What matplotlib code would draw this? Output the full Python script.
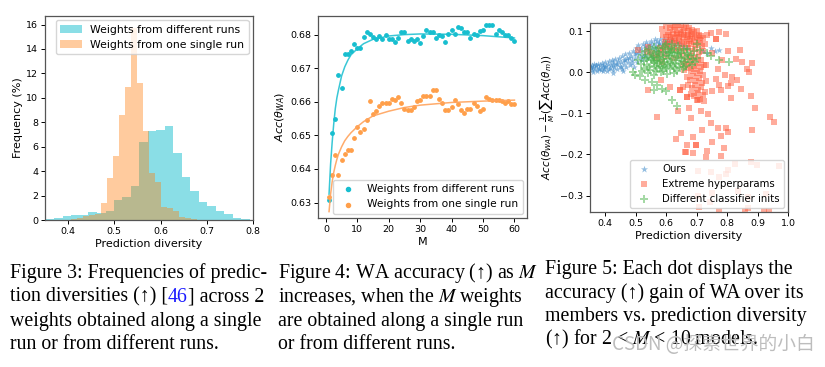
import matplotlib
matplotlib.use("Agg")
import matplotlib.pyplot as plt
import numpy as np

# ── Figure 3: histogram of prediction diversity ──────────────────────────────
diff_edges = [0.352, 0.370, 0.389, 0.407, 0.425, 0.444, 0.462, 0.481, 0.499, 0.517,
              0.536, 0.554, 0.572, 0.591, 0.609, 0.627, 0.646, 0.664, 0.683, 0.701,
              0.719, 0.738, 0.756, 0.774, 0.793]
diff_freq = [0.10, 0.15, 0.30, 0.40, 0.40, 0.65, 0.60, 0.75, 1.65, 1.90, 2.80, 6.40,
             7.30, 7.40, 7.70, 5.50, 3.55, 2.40, 1.50, 1.15, 0.70, 0.50, 0.20, 0.08]

single_edges = [0.406, 0.419, 0.432, 0.445, 0.458, 0.471, 0.484, 0.497, 0.510, 0.523,
                0.536, 0.549, 0.562, 0.575, 0.588, 0.601, 0.614, 0.627, 0.640, 0.653,
                0.666, 0.679]
single_freq = [0.10, 0.20, 0.30, 0.40, 0.50, 1.37, 3.40, 5.20, 8.60, 10.90, 15.70,
               11.20, 7.30, 3.85, 3.15, 1.05, 0.95, 0.70, 0.25, 0.15, 0.05]

# ── Figure 4: WA accuracy vs M ───────────────────────────────────────────────
M = list(range(1, 61))
acc_diff = [0.6308, 0.6506, 0.6550, 0.6679, 0.6642, 0.6741, 0.6741, 0.6750, 0.6773, 0.6760,
            0.6760, 0.6793, 0.6807, 0.6803, 0.6793, 0.6786, 0.6795, 0.6786, 0.6799, 0.6786,
            0.6786, 0.6778, 0.6791, 0.6807, 0.6807, 0.6782, 0.6786, 0.6782, 0.6786, 0.6774,
            0.6795, 0.6815, 0.6807, 0.6807, 0.6790, 0.6799, 0.6795, 0.6778, 0.6803, 0.6815,
            0.6803, 0.6824, 0.6819, 0.6807, 0.6807, 0.6790, 0.6803, 0.6799, 0.6811, 0.6815,
            0.6828, 0.6828, 0.6828, 0.6803, 0.6815, 0.6807, 0.6799, 0.6799, 0.6790, 0.6782]
acc_single = [0.6318, 0.6382, 0.6441, 0.6382, 0.6427, 0.6444, 0.6455, 0.6455, 0.6493, 0.6526,
              0.6509, 0.6518, 0.6547, 0.6601, 0.6563, 0.6572, 0.6588, 0.6596, 0.6596, 0.6596,
              0.6609, 0.6605, 0.6613, 0.6596, 0.6580, 0.6576, 0.6576, 0.6584, 0.6601, 0.6605,
              0.6617, 0.6617, 0.6617, 0.6634, 0.6634, 0.6609, 0.6596, 0.6576, 0.6576, 0.6584,
              0.6605, 0.6592, 0.6576, 0.6567, 0.6580, 0.6580, 0.6596, 0.6588, 0.6572, 0.6580,
              0.6613, 0.6609, 0.6605, 0.6605, 0.6605, 0.6601, 0.6596, 0.6601, 0.6592, 0.6592]
# fitted trend lines
fit_M = [1, 1.5, 2, 2.5, 3, 3.5, 4, 5, 6, 7, 8, 10, 12, 15, 20, 25, 30, 40, 50, 60]
fit_diff = [0.6325, 0.6415, 0.6480, 0.6535, 0.6580, 0.6612, 0.6635, 0.6677, 0.6704, 0.6724,
            0.6740, 0.6758, 0.6773, 0.6786, 0.6796, 0.6800, 0.6802, 0.6801, 0.6797, 0.6790]
fit_single = [0.6273, 0.6325, 0.6362, 0.6390, 0.6411, 0.6429, 0.6444, 0.6466, 0.6484, 0.6497,
              0.6508, 0.6526, 0.6541, 0.6558, 0.6572, 0.6583, 0.6590, 0.6598, 0.6602, 0.6605]

# ── Figure 5: accuracy gain vs diversity ─────────────────────────────────────
ours = [(0.352, 0.010), (0.355, 0.017), (0.358, 0.006), (0.361, 0.013), (0.364, 0.020),
        (0.367, 0.008), (0.370, 0.015), (0.373, 0.004), (0.376, 0.021), (0.379, 0.011),
        (0.382, 0.017), (0.385, 0.005), (0.388, 0.023), (0.391, 0.013), (0.394, 0.019),
        (0.397, 0.008), (0.400, 0.025), (0.403, 0.015), (0.406, 0.004), (0.409, 0.021),
        (0.412, 0.028), (0.415, 0.011), (0.418, 0.018), (0.421, 0.030), (0.424, 0.006),
        (0.427, 0.024), (0.430, 0.014), (0.433, 0.033), (0.436, 0.020), (0.439, 0.009),
        (0.442, 0.028), (0.445, 0.036), (0.448, 0.016), (0.451, 0.024), (0.454, 0.040),
        (0.457, 0.004), (0.460, 0.031), (0.463, 0.020), (0.466, 0.044), (0.469, 0.012),
        (0.472, 0.036), (0.475, 0.026), (0.478, 0.048), (0.481, 0.018), (0.484, 0.040),
        (0.487, 0.030), (0.490, 0.052), (0.493, 0.012), (0.496, 0.044), (0.499, 0.034),
        (0.502, 0.058), (0.505, 0.024), (0.508, 0.066), (0.511, 0.048), (0.514, 0.038),
        (0.517, 0.060), (0.520, 0.030), (0.523, 0.070), (0.526, 0.052), (0.529, 0.042),
        (0.532, 0.064), (0.535, 0.074), (0.538, 0.035), (0.541, 0.056), (0.544, 0.068),
        (0.547, 0.046), (0.550, 0.077), (0.553, 0.060), (0.556, 0.040), (0.559, 0.071),
        (0.562, 0.080), (0.565, 0.052), (0.568, 0.065), (0.571, 0.076), (0.574, 0.045),
        (0.577, 0.069), (0.580, 0.081), (0.584, 0.058), (0.588, 0.074), (0.592, 0.082),
        (0.596, 0.050), (0.600, 0.070), (0.605, 0.079), (0.610, 0.062), (0.615, 0.074),
        (0.620, 0.080), (0.628, 0.066), (0.636, 0.075), (0.645, 0.070), (0.655, 0.064),
        (0.668, 0.060), (0.720, 0.052), (0.735, 0.047), (0.748, 0.058), (0.760, 0.051),
        (0.772, 0.055), (0.360, 0.001), (0.392, 0.002), (0.425, -0.002), (0.455, 0.008),
        (0.354, 0.013), (0.368, 0.018), (0.381, 0.008), (0.398, 0.014), (0.411, 0.009),
        (0.426, 0.017), (0.440, 0.021), (0.452, 0.014), (0.465, 0.029), (0.477, 0.035),
        (0.489, 0.022), (0.500, 0.046), (0.512, 0.055), (0.524, 0.040), (0.537, 0.061),
        (0.549, 0.066), (0.563, 0.058), (0.575, 0.072), (0.590, 0.066), (0.603, 0.074)]

extreme = [(0.585, 0.105), (0.598, 0.112), (0.605, 0.098), (0.612, 0.108), (0.618, 0.115),
           (0.625, 0.102), (0.630, 0.110), (0.636, 0.095), (0.640, 0.114), (0.645, 0.104),
           (0.650, 0.116), (0.655, 0.099), (0.660, 0.109), (0.665, 0.113), (0.670, 0.101),
           (0.675, 0.108), (0.680, 0.094), (0.686, 0.104), (0.692, 0.097), (0.700, 0.101),
           (0.708, 0.092), (0.715, 0.088), (0.590, 0.090), (0.600, 0.085), (0.608, 0.092),
           (0.615, 0.087), (0.622, 0.094), (0.628, 0.083), (0.634, 0.090), (0.642, 0.086),
           (0.648, 0.093), (0.654, 0.084), (0.660, 0.091), (0.667, 0.086), (0.673, 0.092),
           (0.679, 0.082), (0.685, 0.089), (0.694, 0.083), (0.702, 0.086), (0.712, 0.079),
           (0.722, 0.083), (0.735, 0.090), (0.748, 0.095), (0.762, 0.082), (0.595, 0.075),
           (0.603, 0.070), (0.611, 0.078), (0.619, 0.072), (0.627, 0.077), (0.635, 0.071),
           (0.643, 0.076), (0.651, 0.069), (0.659, 0.075), (0.667, 0.070), (0.675, 0.077),
           (0.683, 0.068), (0.691, 0.074), (0.699, 0.066), (0.707, 0.071), (0.716, 0.063),
           (0.728, 0.068), (0.580, 0.060), (0.590, 0.055), (0.600, 0.062), (0.612, 0.057),
           (0.624, 0.060), (0.636, 0.054), (0.648, 0.059), (0.660, 0.053), (0.672, 0.058),
           (0.684, 0.051), (0.696, 0.056), (0.708, 0.049), (0.720, 0.052), (0.540, 0.062),
           (0.555, 0.048), (0.565, 0.035), (0.575, 0.045), (0.508, 0.054), (0.536, 0.050),
           (0.585, 0.025), (0.600, 0.040), (0.625, 0.035), (0.650, 0.040), (0.668, 0.038),
           (0.680, 0.040), (0.692, 0.035), (0.705, 0.038), (0.715, 0.030), (0.655, 0.020),
           (0.665, 0.025), (0.675, 0.018), (0.685, 0.024), (0.695, 0.015), (0.705, 0.022),
           (0.715, 0.012), (0.725, 0.018), (0.660, 0.005), (0.672, 0.010), (0.682, 0.002),
           (0.692, 0.008), (0.702, -0.002), (0.712, 0.004), (0.722, -0.006), (0.668, -0.012),
           (0.678, -0.018), (0.688, -0.010), (0.698, -0.022), (0.708, -0.015), (0.718, -0.026),
           (0.730, -0.020), (0.672, -0.032), (0.684, -0.038), (0.694, -0.030), (0.704, -0.044),
           (0.714, -0.036), (0.726, -0.048), (0.680, -0.052), (0.692, -0.058), (0.702, -0.050),
           (0.712, -0.064), (0.722, -0.056), (0.700, -0.068), (0.646, -0.042), (0.655, -0.036),
           (0.669, -0.060), (0.612, -0.036), (0.582, -0.018), (0.541, -0.043), (0.804, 0.052),
           (0.841, 0.054), (0.830, 0.032), (0.850, 0.025), (0.883, 0.023), (0.865, 0.009),
           (0.873, 0.001), (0.833, -0.018), (0.813, -0.025), (0.804, -0.034), (0.773, -0.030),
           (0.780, -0.044), (0.846, -0.040), (0.813, -0.062), (0.879, -0.057), (0.893, -0.088),
           (0.954, -0.120), (0.940, -0.109), (0.881, -0.141), (0.571, -0.108), (0.640, -0.095),
           (0.676, -0.087), (0.715, -0.093), (0.738, -0.101), (0.748, -0.123), (0.718, -0.141),
           (0.680, -0.111), (0.649, -0.148), (0.697, -0.177), (0.668, -0.176), (0.664, -0.195),
           (0.688, -0.197), (0.735, -0.192), (0.731, -0.207), (0.779, -0.203), (0.790, -0.184),
           (0.769, -0.136), (0.796, -0.136), (0.802, -0.146), (0.779, -0.154), (0.751, -0.170),
           (0.688, -0.158), (0.825, -0.223), (0.879, -0.219), (0.795, -0.247), (0.804, -0.237),
           (0.748, -0.243), (0.704, -0.239), (0.773, -0.255), (0.750, -0.294), (0.703, -0.300),
           (0.835, -0.288), (0.868, -0.304), (0.867, -0.331), (0.921, -0.338), (0.858, -0.338),
           (0.938, -0.337), (0.709, -0.328), (0.774, -0.337), (0.744, -0.316), (0.927, -0.296),
           (0.970, -0.229), (0.898, -0.225), (0.646, -0.042), (0.669, -0.060), (0.703, -0.068),
           (0.723, -0.071), (0.751, -0.046), (0.793, -0.007), (0.817, -0.011), (0.769, 0.007),
           (0.765, -0.017), (0.782, 0.031), (0.731, 0.017), (0.749, 0.046), (0.762, 0.082),
           (0.795, 0.094), (0.773, 0.098), (0.631, -0.163), (0.662, -0.194), (0.698, -0.177)]

inits = [(0.560, 0.062), (0.578, 0.058), (0.596, 0.064), (0.617, 0.060), (0.638, 0.063),
         (0.658, 0.057), (0.532, 0.052), (0.549, 0.047), (0.566, 0.053), (0.588, 0.049),
         (0.606, 0.054), (0.627, 0.046), (0.646, 0.052), (0.668, 0.048), (0.690, 0.051),
         (0.520, 0.042), (0.541, 0.038), (0.557, 0.043), (0.577, 0.037), (0.598, 0.041),
         (0.619, 0.036), (0.640, 0.042), (0.662, 0.037), (0.681, 0.041), (0.702, 0.036),
         (0.509, 0.031), (0.528, 0.027), (0.549, 0.033), (0.569, 0.028), (0.591, 0.032),
         (0.611, 0.026), (0.632, 0.031), (0.652, 0.027), (0.673, 0.032), (0.693, 0.026),
         (0.517, 0.021), (0.538, 0.017), (0.560, 0.022), (0.581, 0.016), (0.602, 0.021),
         (0.623, 0.015), (0.644, 0.020), (0.664, 0.016), (0.684, 0.019), (0.527, 0.009),
         (0.548, 0.005), (0.570, 0.010), (0.591, 0.004), (0.612, 0.009), (0.634, 0.003),
         (0.655, 0.008), (0.540, -0.002), (0.561, -0.006), (0.583, 0.000), (0.604, -0.004),
         (0.625, -0.001), (0.490, 0.001), (0.497, -0.007), (0.515, -0.010), (0.530, -0.019),
         (0.552, -0.024), (0.571, -0.030), (0.585, -0.040), (0.560, -0.043), (0.600, -0.045),
         (0.618, -0.068), (0.635, -0.081), (0.600, 0.068), (0.620, 0.070), (0.700, 0.070),
         (0.712, 0.054), (0.735, 0.046), (0.748, 0.040), (0.772, 0.030), (0.806, 0.025),
         (0.575, 0.044), (0.593, 0.024), (0.612, 0.040), (0.630, 0.022), (0.585, 0.012),
         (0.570, 0.036), (0.605, 0.032), (0.560, 0.028), (0.648, 0.034), (0.620, 0.050),
         (0.545, 0.056), (0.553, 0.030), (0.563, 0.015), (0.573, 0.050), (0.582, 0.027),
         (0.590, 0.058), (0.597, 0.016), (0.608, 0.046), (0.615, 0.020), (0.625, 0.056),
         (0.635, 0.038), (0.642, 0.012), (0.650, 0.046), (0.660, 0.024), (0.670, 0.042),
         (0.677, 0.026), (0.534, 0.036), (0.544, 0.012), (0.556, 0.038), (0.567, 0.002),
         (0.578, 0.022), (0.589, 0.040), (0.601, 0.010), (0.613, 0.050), (0.628, 0.010),
         (0.638, 0.048), (0.657, 0.014), (0.667, 0.056), (0.687, 0.032), (0.522, 0.004)]

fig = plt.figure(figsize=(8.25, 3.67), dpi=100)
fig.patch.set_facecolor("white")

# panel 1
ax1 = fig.add_axes([0.0545, 0.4005, 0.2521, 0.556])
ax1.stairs(diff_freq, diff_edges, fill=True, color="#17becf", alpha=0.5,
           label="Weights from different runs")
ax1.stairs(single_freq, single_edges, fill=True, color="#ff7f0e", alpha=0.4,
           label="Weights from one single run")
ax1.set_xlim(0.35, 0.8)
ax1.set_ylim(0, 16.7)
ax1.set_yticks(range(0, 17, 2))
ax1.set_xticks([0.4, 0.5, 0.6, 0.7, 0.8])
ax1.set_xlabel("Prediction diversity", fontsize=8, labelpad=2)
ax1.set_ylabel("Frequency (%)", fontsize=8, labelpad=2)
ax1.legend(loc="upper right", fontsize=7.8, handlelength=2.0, borderaxespad=0.4)

# panel 2
ax2 = fig.add_axes([0.3855, 0.406, 0.2533, 0.550])
ax2.scatter(M, acc_diff, s=6, color="#17becf", label="Weights from different runs")
ax2.scatter(M, acc_single, s=6, color="#ff9f4a", label="Weights from one single run")
ax2.plot(fit_M, fit_diff, color="#17becf", lw=1.1, alpha=0.85)
ax2.plot(fit_M, fit_single, color="#ffa35c", lw=1.1, alpha=0.9)
ax2.set_xlim(-2.5, 64)
ax2.set_ylim(0.6254, 0.6855)
ax2.set_xticks(range(0, 61, 10))
ax2.set_yticks([0.63, 0.64, 0.65, 0.66, 0.67, 0.68])
ax2.set_xlabel("M", fontsize=8, labelpad=2)
ax2.set_ylabel(r"$Acc(\theta_{WA})$", fontsize=8, labelpad=2)
ax2.legend(loc="lower right", fontsize=7.7, scatterpoints=1, markerscale=1.2,
           borderaxespad=0.4)

# panel 3
ax3 = fig.add_axes([0.7152, 0.4223, 0.24, 0.515])
ox, oy = np.array(ours).T
ex, ey = np.array(extreme).T
ix, iy = np.array(inits).T
ax3.scatter(ox, oy, s=24, marker="*", color="#3a88c8", alpha=0.55, lw=0, label="Ours")
ax3.scatter(ex, ey, s=16, marker="s", color="#ff5a3a", alpha=0.5, lw=0,
            label="Extreme hyperparams")
ax3.scatter(ix, iy, s=26, marker="P", color="#4cb44c", alpha=0.5, lw=0,
            label="Different classifier inits")
ax3.set_xlim(0.35, 1.0)
ax3.set_ylim(-0.34, 0.12)
ax3.set_xticks([0.4, 0.5, 0.6, 0.7, 0.8, 0.9, 1.0])
ax3.set_yticks([-0.3, -0.2, -0.1, 0.0, 0.1])
ax3.set_xlabel("Prediction diversity", fontsize=8, labelpad=2)
ax3.set_ylabel(r"$Acc(\theta_{WA})-\frac{1}{M}(\sum Acc(\theta_m))$", fontsize=7.5, labelpad=2)
ax3.legend(loc="lower right", fontsize=7.3, framealpha=0.8, markerscale=1.1,
           borderaxespad=0.4)

for ax in (ax1, ax2, ax3):
    ax.tick_params(labelsize=6.8, length=3, width=0.7, pad=2)
    for sp in ax.spines.values():
        sp.set_color("#555555")
        sp.set_linewidth(0.9)

# captions
cap = fig.add_axes([0, 0, 1, 1])
cap.axis("off")
serif = ["Liberation Serif", "DejaVu Serif"]
cap_kw = dict(fontsize=14.3, family=serif, math_fontfamily="stix", va="baseline",
              transform=cap.transAxes)
lines3 = ["Figure 3: Frequencies of predic-", None,
          "weights obtained along a single", "run or from different runs."]
lines4 = ["Figure 4: WA accuracy (↑) as $M$", "increases, when the $M$ weights",
          "are obtained along a single run", "or from different runs."]
lines5 = ["Figure 5: Each dot displays the", "accuracy (↑) gain of WA over its",
          "members vs. prediction diversity", "(↑) for 2 < $M$ < 10 models."]
base3 = [0.243, 0.178, 0.113, 0.050]
base5 = [0.254, 0.189, 0.124, 0.061]
for i, txt in enumerate(lines3):
    if txt is None:
        t1 = cap.text(0.012, base3[i], "tion diversities (↑) [", **cap_kw)
        t2 = cap.annotate("46", xy=(1, 0), xycoords=t1, va="bottom", ha="left",
                          fontsize=14.3, family=serif, color="#1a1aff")
        cap.annotate("] across 2", xy=(1, 0), xycoords=t2, va="bottom", ha="left",
                     fontsize=14.3, family=serif)
    else:
        cap.text(0.012, base3[i], txt, **cap_kw)
for i, txt in enumerate(lines4):
    cap.text(0.337, base3[i], txt, **cap_kw)
for i, txt in enumerate(lines5):
    cap.text(0.661, base5[i], txt, **cap_kw)

cap.text(0.988, 0.045, "CSDN @探索世界的小白", transform=cap.transAxes, ha="right",
         va="baseline", fontsize=13.5, color="#bdbdbd",
         family=["Noto Sans CJK SC", "DejaVu Sans"])

fig.savefig("out.png", dpi=100)
